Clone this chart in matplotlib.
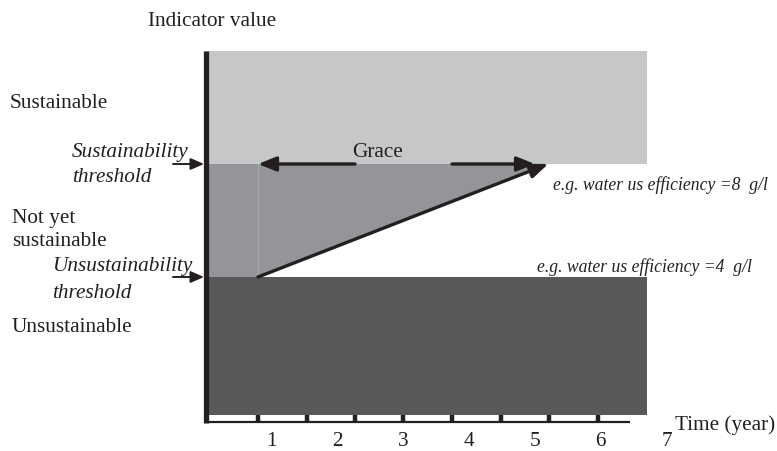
import matplotlib
matplotlib.use("Agg")
import matplotlib.pyplot as plt
from matplotlib.patches import Rectangle, Polygon

# ---------------- data ----------------
year_labels = [1, 2, 3, 4, 5, 6, 7]
tick_years = [0.79, 1.535, 2.264, 2.994, 3.739, 4.483, 5.213, 5.957]
unsust_threshold = 4      # g/l
sust_threshold = 8        # g/l
grace_start = 0.79        # year
grace_end = 5.2           # year
plot_end = 6.70           # year (extent of coloured bands)
axis_end = 6.44           # year (end of time axis line)
y_top = 12.0
y_bottom = -0.885

# ---------------- layout helpers (pixel -> data) ----------------
PX_PER_YEAR = 65.8
X0 = 206
PX_PER_UNIT = 28.25
Y0 = 391
def X(px):
    return (px - X0) / PX_PER_YEAR
def Y(py):
    return (Y0 - py) / PX_PER_UNIT

LIGHT = "#c6c7c9"
MID = "#939598"
DARK = "#58595b"
INK = "#231f20"

plt.rcParams['font.family'] = ['Liberation Serif', 'DejaVu Serif']

fig = plt.figure(figsize=(7.77, 4.52), dpi=100)
ax = fig.add_axes([0, 0, 1, 1])
ax.set_xlim(X(0), X(777))
ax.set_ylim(Y(452), Y(0))
ax.axis("off")

# bands
ax.add_patch(Rectangle((0, sust_threshold), plot_end, y_top - sust_threshold,
                       facecolor=LIGHT, edgecolor="none", zorder=1))
ax.add_patch(Rectangle((0, unsust_threshold), grace_start, sust_threshold - unsust_threshold,
                       facecolor=MID, edgecolor="none", zorder=1))
ax.add_patch(Polygon([(grace_start, unsust_threshold), (grace_start, sust_threshold),
                      (grace_end, sust_threshold)], closed=True,
                     facecolor=MID, edgecolor="none", zorder=1))
ax.plot([grace_start, grace_start], [unsust_threshold, sust_threshold],
        color="#a7a9ac", lw=0.8, zorder=2)
ax.add_patch(Rectangle((0, y_bottom), plot_end, unsust_threshold - y_bottom,
                       facecolor=DARK, edgecolor="none", zorder=1))

# axes
ax.plot([0, 0], [Y(423.5), y_top], color=INK, lw=3.8, solid_capstyle="butt", zorder=5)
ax.plot([0, axis_end], [Y(422.7), Y(422.7)], color=INK, lw=1.6, solid_capstyle="butt", zorder=5)
ax.vlines(tick_years, Y(423.5), y_bottom, color=INK, lw=3.2, zorder=5)

fs = 15.3
for yr in year_labels:
    ax.text(yr, Y(442), str(yr), ha="center", va="center", fontsize=fs, color=INK)
ax.text(X(675), Y(425), "Time (year)", ha="left", va="center", fontsize=fs, color=INK)

# arrows
arrow_kw = dict(arrowstyle="-|>,head_length=0.9,head_width=0.36", color=INK, lw=2.4,
                shrinkA=0, shrinkB=0, mutation_scale=12)
ax.annotate("", xy=(grace_end, sust_threshold), xytext=(grace_start, unsust_threshold),
            arrowprops=arrow_kw, zorder=6)
ax.annotate("", xy=(grace_start, sust_threshold), xytext=(X(355), sust_threshold),
            arrowprops=arrow_kw, zorder=6)
ax.annotate("", xy=(X(535), sust_threshold), xytext=(X(452), sust_threshold),
            arrowprops=arrow_kw, zorder=6)
small_kw = dict(arrowstyle="-|>,head_length=0.8,head_width=0.35", color=INK, lw=1.4,
                shrinkA=0, shrinkB=0, mutation_scale=10)
ax.annotate("", xy=(X(204), sust_threshold), xytext=(X(173), sust_threshold),
            arrowprops=small_kw, zorder=6)
ax.annotate("", xy=(X(204), unsust_threshold), xytext=(X(173), unsust_threshold),
            arrowprops=small_kw, zorder=6)

# texts
ax.text(X(377), Y(153), "Grace", ha="center", va="center", fontsize=fs, color=INK, zorder=7)
ax.text(X(148), Y(22), "Indicator value", ha="left", va="center", fontsize=fs, color=INK)
ax.text(X(10), Y(104), "Sustainable", ha="left", va="center", fontsize=fs, color=INK)
ax.text(X(72), Y(153), "Sustainability", ha="left", va="center", fontsize=fs, color=INK, style="italic")
ax.text(X(72), Y(178), "threshold", ha="left", va="center", fontsize=fs, color=INK, style="italic")
ax.text(X(12), Y(218), "Not yet", ha="left", va="center", fontsize=fs, color=INK)
ax.text(X(12), Y(242), "sustainable", ha="left", va="center", fontsize=fs, color=INK)
ax.text(X(52), Y(267), "Unsustainability", ha="left", va="center", fontsize=fs, color=INK, style="italic")
ax.text(X(52), Y(293), "threshold", ha="left", va="center", fontsize=fs, color=INK, style="italic")
ax.text(X(12), Y(327), "Unsustainable", ha="left", va="center", fontsize=fs, color=INK)

ax.text(X(553), Y(185), f"e.g. water us efficiency ={sust_threshold}  g/l", ha="left", va="center",
        fontsize=12.7, color=INK, style="italic")
ax.text(X(537), Y(267), f"e.g. water us efficiency ={unsust_threshold}  g/l", ha="left", va="center",
        fontsize=12.7, color=INK, style="italic")

fig.savefig("out.png", dpi=100)
